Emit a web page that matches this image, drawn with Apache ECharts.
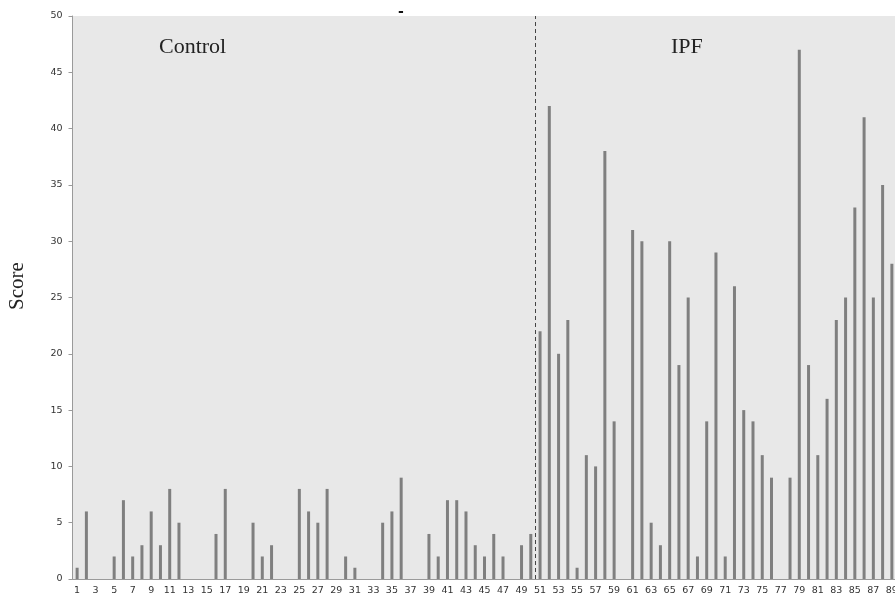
<!DOCTYPE html>
<html>
<head>
<meta charset="utf-8">
<script src="https://cdn.jsdelivr.net/npm/echarts@6/dist/echarts.min.js"></script>
<style>
  html, body { margin: 0; padding: 0; background: #fff; }
  #chart { width: 895px; height: 605px; }
</style>
</head>
<body>
<div id="chart"></div>
<script>
// patient numbers 1..89
const subjects = ['1','2','3','4','5','6','7','8','9','10','11','12','13','14','15','16','17','18','19','20',
  '21','22','23','24','25','26','27','28','29','30','31','32','33','34','35','36','37','38','39','40',
  '41','42','43','44','45','46','47','48','49','50','51','52','53','54','55','56','57','58','59','60',
  '61','62','63','64','65','66','67','68','69','70','71','72','73','74','75','76','77','78','79','80',
  '81','82','83','84','85','86','87','88','89']

// scores, subjects 1-50 are controls, 51-89 IPF
const controlScores = [1, 6, 0, 0, 2, 7, 2, 3, 6, 3, 8, 5, 0, 0, 0, 4, 8, 0, 0, 5,
  2, 3, 0, 0, 8, 6, 5, 8, 0, 2, 1, 0, 0, 5, 6, 9, 0, 0, 4, 2,
  7, 7, 6, 3, 2, 4, 2, 0, 3, 4]
const ipfScores = [22, 42, 20, 23, 1, 11, 10, 38, 14, 0, 31, 30, 5, 3, 30, 19, 25, 2, 14, 29,
  2, 26, 15, 14, 11, 9, 0, 9, 47, 19, 11, 16, 23, 25, 33, 41, 25, 35, 28]

const scores = controlScores.concat(ipfScores)
const groupSplit = controlScores.length

const yTicks = { min: 0, max: 50, interval: 5 }

const chart = echarts.init(document.getElementById('chart'))

chart.setOption({
  animation: false,
  backgroundColor: '#ffffff',
  grid: {
    left: 72.5,
    top: 16,
    right: -1.5,
    bottom: 26,
    outerBoundsMode: 'none',
    containLabel: false,
    show: true,
    backgroundColor: '#e8e8e8',
    borderWidth: 0
  },
  xAxis: [
    {
      type: 'category',
      data: subjects,
      axisLine: { lineStyle: { color: '#9a9a9a', width: 1 } },
      axisTick: { interval: 0, length: 3, lineStyle: { color: '#9a9a9a' } },
      axisLabel: {
        interval: 1,
        fontSize: 9.5,
        color: '#333',
        margin: 7,
        fontFamily: 'DejaVu Sans'
      },
      splitLine: { show: false }
    },
    {
      type: 'value',
      min: 0,
      max: subjects.length,
      show: false
    }
  ],
  yAxis: {
    type: 'value',
    min: yTicks.min,
    max: yTicks.max,
    interval: yTicks.interval,
    axisLine: { show: true, lineStyle: { color: '#9a9a9a', width: 1 } },
    axisTick: { show: true, length: 4, lineStyle: { color: '#9a9a9a' } },
    axisLabel: { fontSize: 9.5, color: '#333', margin: 10, fontFamily: 'DejaVu Sans' },
    splitLine: { show: false }
  },
  series: [
    {
      type: 'bar',
      data: scores,
      barWidth: 3,
      itemStyle: { color: '#7f7f7f' }
    },
    {
      type: 'line',
      xAxisIndex: 1,
      data: [[groupSplit, 0]],
      showSymbol: false,
      symbol: 'none',
      lineStyle: { opacity: 0 },
      markLine: {
        silent: true,
        symbol: 'none',
        label: { show: false },
        lineStyle: { type: [4, 3], color: '#444', width: 1 },
        data: [{ xAxis: groupSplit }]
      }
    }
  ],
  graphic: [
    {
      type: 'text',
      left: 159,
      top: 36,
      style: { text: 'Control', font: '22px "Liberation Serif", serif', fill: '#222' }
    },
    {
      type: 'text',
      left: 671,
      top: 36,
      style: { text: 'IPF', font: '22px "Liberation Serif", serif', fill: '#222' }
    },
    {
      type: 'text',
      x: 17,
      y: 286,
      rotation: Math.PI / 2,
      style: {
        text: 'Score',
        font: '21px "Liberation Serif", serif',
        fill: '#222',
        align: 'center',
        verticalAlign: 'middle'
      }
    },
    {
      type: 'text',
      left: 398,
      top: 5,
      style: { text: '-', font: 'bold 14px "DejaVu Sans", sans-serif', fill: '#111' }
    }
  ]
})
</script>
</body>
</html>
